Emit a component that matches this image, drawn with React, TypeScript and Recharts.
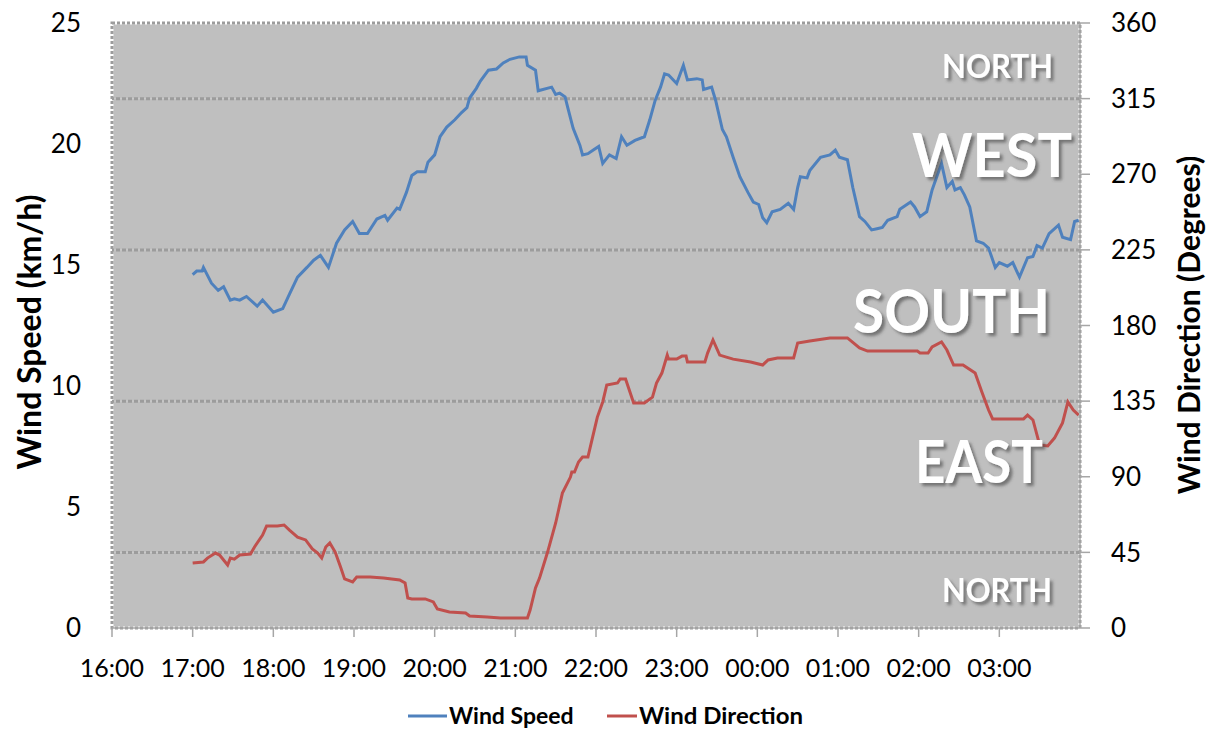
import {
  LineChart,
  Line,
  XAxis,
  YAxis,
  ReferenceArea,
  ReferenceLine,
  Customized,
} from "recharts";

// minutes after 16:00
const speedT = [
  60, 63, 67, 68, 74, 79, 83, 88, 91, 95,
  100, 108, 112, 120, 127, 132, 138, 145, 150, 155,
  161, 167, 173, 179, 184, 190, 197, 203, 205, 212,
  214, 219, 223, 227, 233, 235, 240, 244, 249, 255,
  260, 264, 266, 271, 274, 280, 286, 291, 296, 303,
  308, 309, 315, 317, 327, 330, 333, 337, 339, 343,
  348, 350, 354, 358, 362, 365, 370, 375, 379, 383,
  389, 396, 400, 404, 408, 411, 414, 420, 425, 428,
  435, 439, 440, 446, 449, 454, 457, 462, 467, 473,
  477, 481, 484, 487, 491, 497, 503, 507, 510, 512,
  517, 519, 527, 534, 538, 541, 547, 551, 556, 560,
  565, 569, 573, 577, 584, 586, 594, 597, 601, 606,
  610, 617, 621, 625, 627, 631, 634, 638, 643, 648,
  652, 657, 660, 666, 670, 675, 681, 685, 688, 692,
  697, 704, 707, 713, 716, 719,
];
const speedV = [
  14.6, 14.75, 14.75, 14.9, 14.25, 13.95, 14.1, 13.55, 13.6, 13.55,
  13.7, 13.3, 13.55, 13.05, 13.2, 13.8, 14.5, 14.9, 15.2, 15.4,
  14.9, 15.9, 16.45, 16.8, 16.3, 16.3, 16.9, 17.05, 16.85, 17.35,
  17.3, 18.0, 18.7, 18.85, 18.85, 19.25, 19.55, 20.3, 20.7, 21.0,
  21.3, 21.5, 21.9, 22.3, 22.6, 23.05, 23.1, 23.35, 23.5, 23.6,
  23.6, 23.25, 23.05, 22.2, 22.35, 22.05, 22.1, 21.95, 21.5, 20.65,
  19.95, 19.55, 19.6, 19.75, 19.9, 19.2, 19.55, 19.4, 20.3, 19.95,
  20.15, 20.3, 21.0, 21.8, 22.35, 22.9, 22.85, 22.5, 23.25, 22.65,
  22.7, 22.65, 22.25, 22.35, 21.8, 20.6, 20.3, 19.45, 18.65, 18.0,
  17.6, 17.5, 16.95, 16.75, 17.2, 17.3, 17.55, 17.3, 18.2, 18.65,
  18.6, 18.9, 19.45, 19.55, 19.75, 19.45, 19.35, 18.2, 17.0, 16.8,
  16.45, 16.5, 16.55, 16.85, 17.0, 17.3, 17.6, 17.4, 17.0, 17.2,
  18.1, 19.2, 18.2, 18.45, 18.1, 18.2, 17.9, 17.4, 16.0, 15.9,
  15.7, 14.9, 15.1, 14.95, 15.1, 14.5, 15.3, 15.35, 15.8, 15.7,
  16.3, 16.65, 16.15, 16.05, 16.8, 16.85,
];

const dirT = [
  60, 68, 71, 77, 80, 86, 88, 91, 95, 103,
  106, 112, 115, 123, 128, 132, 138, 144, 149, 153,
  156, 159, 162, 166, 170, 173, 179, 182, 192, 202,
  214, 218, 220, 223, 233, 239, 242, 251, 263, 266,
  279, 289, 309, 311, 315, 318, 324, 330, 335, 341,
  342, 344, 347, 350, 354, 357, 361, 365, 368, 376,
  378, 382, 388, 396, 402, 405, 409, 413, 414, 420,
  424, 427, 428, 441, 443, 447, 452, 457, 462, 475,
  484, 488, 495, 507, 510, 519, 534, 547, 556, 562,
  599, 601, 607, 610, 617, 621, 626, 633, 642, 647,
  652, 655, 678, 681, 685, 690, 696, 701, 707, 711,
  715, 719,
];
const dirV = [
  38.7, 39.3, 41.6, 44.6, 43.4, 37.5, 41.6, 41, 43.4, 44,
  48.2, 55.3, 60.7, 60.7, 61.3, 58.3, 54.1, 52.4, 47, 44.6,
  41.6, 48.2, 50.6, 45.2, 36.3, 29.2, 27.4, 30.3, 30.3, 29.7,
  28.6, 26.8, 17.9, 17.3, 17.3, 15.5, 11.3, 9.5, 8.9, 7.1,
  6.5, 5.9, 5.9, 10.7, 23.8, 29.7, 45.2, 62.5, 80.3, 89.8,
  92.8, 92.8, 98.8, 101.7, 101.7, 111.9, 125.5, 134.5, 144.6, 145.8,
  148.2, 148.2, 133.9, 133.9, 137.4, 145.8, 151.7, 162.4, 160, 160,
  161.8, 161.8, 158.3, 158.3, 163.6, 171.4, 162.4, 161.2, 160, 158.3,
  156.5, 159.5, 160.7, 160.7, 169.6, 170.8, 172.6, 172.6, 166.6, 164.8,
  164.8, 163.6, 163.6, 167.2, 170.2, 165.4, 156.5, 156.5, 151.7, 140.4,
  129.7, 124.4, 124.4, 126.7, 123.8, 108.9, 108.3, 113, 122, 134.5,
  129.7, 126.7,
];

const hourTicks = [0, 60, 120, 180, 240, 300, 360, 420, 480, 540, 600, 660];
const speedTicks = [0, 5, 10, 15, 20, 25];
const dirTicks = [0, 45, 90, 135, 180, 225, 270, 315, 360];
const dirGrid = [45, 135, 225, 315];

const compass = [
  { text: "NORTH", x: 1053, y: 78, size: 33, w: 111 },
  { text: "WEST", x: 1072, y: 177, size: 62, w: 160 },
  { text: "SOUTH", x: 1050, y: 333, size: 62, w: 197 },
  { text: "EAST", x: 1043, y: 483, size: 60, w: 128 },
  { text: "NORTH", x: 1052, y: 602, size: 33, w: 110 },
];

const speedData = speedT.map((t, i) => ({ t, speed: speedV[i] }));
const dirData = dirT.map((t, i) => ({ t, dir: dirV[i] }));

const FONT = "Lato, 'Open Sans', sans-serif";
const BLUE = "#4F81BD";
const RED = "#C0504D";

const fmtHour = (m: number) => {
  const h = (16 + Math.floor(m / 60)) % 24;
  return `${String(h).padStart(2, "0")}:00`;
};

// axis titles + legend (outside the plot area)
function Titles() {
  return (
    <g fontFamily={FONT} fontWeight="bold" fill="#000">
      <text
        transform="translate(28,332) rotate(-90)"
        textAnchor="middle"
        dominantBaseline="central"
        fontSize={32}
      >
        Wind Speed (km/h)
      </text>
      <text
        transform="translate(1188,325) rotate(-90)"
        textAnchor="middle"
        dominantBaseline="central"
        fontSize={30}
      >
        Wind Direction (Degrees)
      </text>
      <line x1={408} y1={716} x2={447} y2={716} stroke={BLUE} strokeWidth={3} />
      <text x={449} y={724} fontSize={23}>
        Wind Speed
      </text>
      <line x1={607} y1={716} x2={637} y2={716} stroke={RED} strokeWidth={3} />
      <text x={639} y={724} fontSize={23} textLength={164} lengthAdjust="spacingAndGlyphs">
        Wind Direction
      </text>
    </g>
  );
}

// compass words drawn above the plot
function CompassLabels() {
  return (
    <svg
      width={1217}
      height={731}
      style={{ position: "absolute", left: 0, top: 0, pointerEvents: "none" }}
    >
      <defs>
        <filter id="txtShadow" x="-10%" y="-20%" width="130%" height="160%">
          <feDropShadow dx="3" dy="3" stdDeviation="1.5" floodColor="#4d4d4d" floodOpacity="0.65" />
        </filter>
      </defs>
      {compass.map((c, i) => (
        <text
          key={i}
          x={c.x - c.w}
          y={c.y}
          textLength={c.w}
          lengthAdjust="spacingAndGlyphs"
          fontFamily={FONT}
          fontSize={c.size}
          fontWeight="bold"
          fill="#fff"
          filter="url(#txtShadow)"
        >
          {c.text}
        </text>
      ))}
    </svg>
  );
}

export default function App() {
  return (
    <div style={{ position: "absolute", left: 0, top: 0, width: 1217, height: 731, background: "#fff" }}>
      <LineChart
        width={1217}
        height={731}
        margin={{ top: 23, right: 0, bottom: 53, left: 0 }}
      >
        <XAxis
          type="number"
          dataKey="t"
          domain={[0, 720]}
          ticks={hourTicks}
          tickFormatter={fmtHour}
          interval={0}
          height={50}
          allowDuplicatedCategory={false}
          stroke="#a6a6a6"
          strokeWidth={1.5}
          tickSize={9}
          tickMargin={22}
          tick={{ fontSize: 25, fill: "#000", fontFamily: FONT }}
        />
        <YAxis
          yAxisId="left"
          orientation="left"
          domain={[0, 25]}
          ticks={speedTicks}
          interval={0}
          width={112}
          axisLine={false}
          tickLine={false}
          tickSize={0}
          tickMargin={31}
          tick={{ fontSize: 26, fill: "#000", fontFamily: FONT }}
        />
        <YAxis
          yAxisId="right"
          orientation="right"
          domain={[0, 360]}
          ticks={dirTicks}
          interval={0}
          width={137}
          stroke="#a6a6a6"
          strokeWidth={1.5}
          tickSize={10}
          tickMargin={21}
          tick={{ fontSize: 26, fill: "#000", fontFamily: FONT }}
        />
        <ReferenceArea
          yAxisId="right"
          x1={0}
          x2={720}
          y1={0}
          y2={360}
          fill="#bfbfbf"
          fillOpacity={1}
          stroke="#ffffff"
          strokeWidth={3}
        />
        <ReferenceArea
          yAxisId="right"
          x1={0}
          x2={720}
          y1={0}
          y2={360}
          fill="none"
          stroke="#9c9c9c"
          strokeWidth={3}
          strokeDasharray="3 2"
        />
        {dirGrid.map((v) => (
          <ReferenceLine key={"b" + v} yAxisId="right" y={v} stroke="#cccccc" strokeWidth={1} />
        ))}
        {dirGrid.map((v) => (
          <ReferenceLine
            key={"d" + v}
            yAxisId="right"
            y={v}
            stroke="#9c9c9c"
            strokeWidth={3}
            strokeDasharray="4 2"
          />
        ))}
        <Line
          yAxisId="left"
          data={speedData}
          dataKey="speed"
          type="linear"
          stroke={BLUE}
          strokeWidth={3}
          dot={false}
          isAnimationActive={false}
        />
        <Line
          yAxisId="right"
          data={dirData}
          dataKey="dir"
          type="linear"
          stroke={RED}
          strokeWidth={3}
          dot={false}
          isAnimationActive={false}
        />
        <Customized component={Titles} />
      </LineChart>
      <CompassLabels />
    </div>
  );
}
